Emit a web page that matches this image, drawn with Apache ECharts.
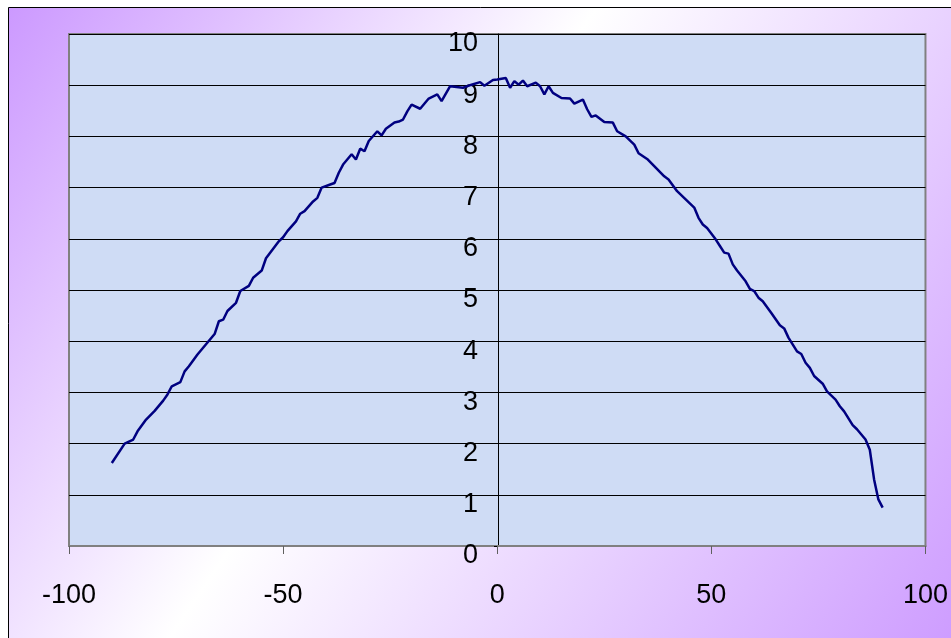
<!DOCTYPE html>
<html>
<head>
<meta charset="utf-8">
<script src="https://cdn.jsdelivr.net/npm/echarts@6/dist/echarts.min.js"></script>
<style>
html,body{margin:0;padding:0;background:#fff;}
#chart{width:951px;height:638px;}
</style>
</head>
<body>
<div id="chart"></div>
<script>
// Data
var xValues = [-90,-87,-85,-84,-82,-80,-78,-77,-76,-74,-73,-72,-70,-68,-66,-65,-64,-63,-61,-60,-58,-57,-55,-54,-51,-50,-49,-47,-46,-45,-43,-42,-41,-39,-38,-37,-36,-34,-33,-32,-31,-30,-28,-27,-26,-24,-23,-22,-21,-20,-18,-16,-14,-13,-11,-8,-6,-4,-3,-1,0,2,3,4,5,6,7,9,10,11,12,13,15,17,18,20,21,22,23,25,27,28,30,32,33,35,37,39,40,42,44,46,47,48,49,51,52,53,54,55,56,58,59,60,61,62,64,66,67,68,70,71,72,73,74,76,77,79,80,81,83,84,86,87,88,89,90];
var yValues = [1.62,2.00,2.08,2.24,2.47,2.64,2.84,2.96,3.12,3.20,3.41,3.51,3.74,3.94,4.14,4.39,4.42,4.59,4.75,4.98,5.08,5.24,5.38,5.62,5.95,6.03,6.15,6.34,6.49,6.54,6.73,6.80,7.00,7.06,7.09,7.29,7.45,7.65,7.55,7.76,7.71,7.91,8.10,8.02,8.15,8.27,8.29,8.33,8.49,8.62,8.54,8.74,8.82,8.69,8.98,8.95,9.01,9.06,8.99,9.10,9.11,9.14,8.95,9.08,9.01,9.09,8.98,9.05,8.98,8.82,8.98,8.85,8.75,8.74,8.64,8.72,8.53,8.38,8.41,8.28,8.27,8.10,8.00,7.84,7.67,7.56,7.39,7.22,7.16,6.93,6.77,6.61,6.41,6.28,6.21,5.99,5.86,5.73,5.71,5.50,5.38,5.17,5.02,4.98,4.85,4.78,4.55,4.31,4.25,4.07,3.80,3.75,3.58,3.48,3.32,3.17,3.02,2.86,2.73,2.63,2.36,2.28,2.08,1.88,1.30,0.91,0.75];
var xTicks = [-100, -50, 0, 50, 100];
var yTicks = [0,1,2,3,4,5,6,7,8,9,10];

var seriesData = xValues.map(function (x, i) { return [x, yValues[i]]; });

var chart = echarts.init(document.getElementById('chart'), null, {renderer: 'canvas'});
var font = '"Liberation Sans", Arial, sans-serif';
chart.setOption({
  animation: false,
  graphic: [{
    type: 'rect',
    z: -10,
    silent: true,
    shape: {x: 8.5, y: 7.5, width: 960, height: 650},
    style: {
      fill: new echarts.graphic.LinearGradient(0, 0, 1, 1, [
        {offset: 0, color: '#cc99ff'},
        {offset: 0.42, color: '#ffffff'},
        {offset: 1, color: '#cc99ff'}
      ]),
      stroke: '#000000',
      lineWidth: 1
    }
  }],
  grid: {
    left: 69, right: 24, top: 34, bottom: 92,
    show: true,
    backgroundColor: '#cfdcf5',
    borderColor: '#808080',
    borderWidth: 2
  },
  xAxis: {
    type: 'value',
    min: xTicks[0],
    max: xTicks[xTicks.length - 1],
    interval: 50,
    position: 'bottom',
    axisLine: {onZero: false, lineStyle: {color: '#808080', width: 2}},
    axisTick: {show: true, length: 8, lineStyle: {color: '#606060', width: 1}},
    splitLine: {show: false},
    axisLabel: {color: '#000', fontSize: 27, fontFamily: font, margin: 36}
  },
  yAxis: {
    type: 'value',
    min: yTicks[0],
    max: yTicks[yTicks.length - 1],
    interval: 1,
    offset: -429,
    axisLine: {show: true, onZero: false, lineStyle: {color: '#000', width: 1}},
    axisTick: {show: true, length: 4, lineStyle: {color: '#000', width: 1}},
    splitLine: {show: true, lineStyle: {color: '#000', width: 1}},
    axisLabel: {
      color: '#000', fontSize: 27, fontFamily: font, margin: 20,
      formatter: '{a|{value}}',
      rich: {a: {color: '#000', fontSize: 27, fontFamily: font, padding: [20, 0, 0, 0]}}
    }
  },
  series: [{
    type: 'line',
    data: seriesData,
    showSymbol: false,
    symbol: 'none',
    lineStyle: {color: '#000080', width: 2.5},
    z: 5
  }]
});
</script>
</body>
</html>
